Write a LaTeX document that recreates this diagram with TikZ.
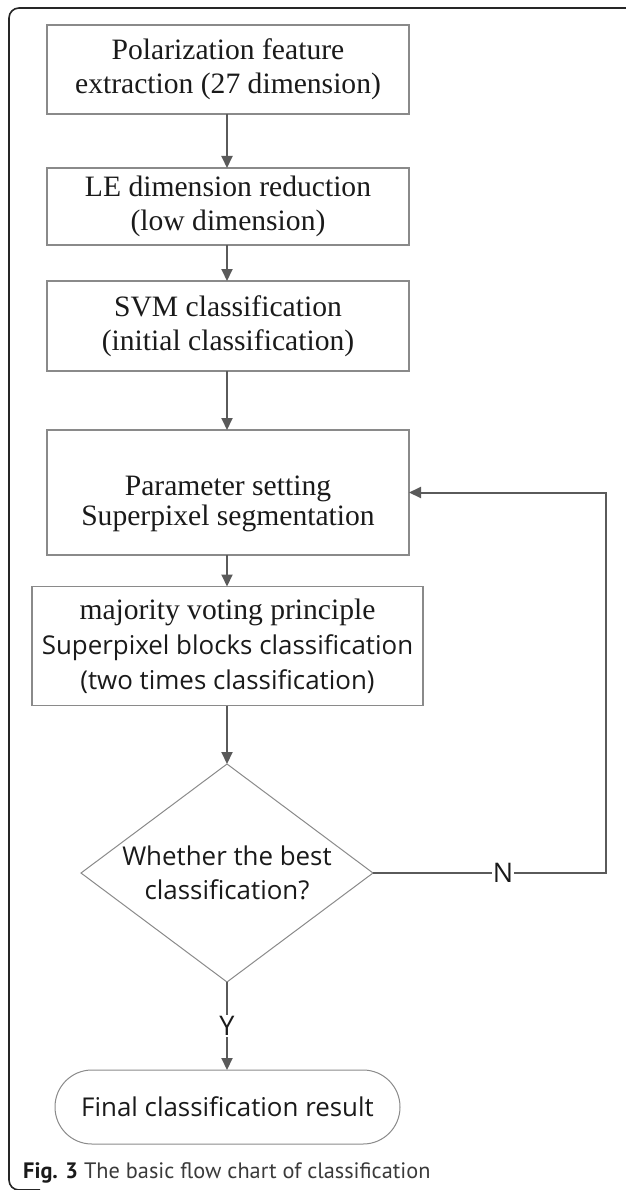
\documentclass[tikz,border=0pt]{standalone}
\usepackage{fontspec}
\setmainfont{Liberation Serif}
\newfontfamily\labelsans{Open Sans}
\newfontfamily\capsans{PT Sans}
\usetikzlibrary{arrows.meta,shapes.geometric}

\definecolor{boxline}{HTML}{8A8A8A}
\definecolor{arrowline}{HTML}{5A5A5A}
\definecolor{txt}{HTML}{1A1A1A}
\definecolor{captxt}{HTML}{3A3A3A}

\tikzset{
  x=1pt, y=-1pt,
  stepbox/.style={draw=boxline, line width=1.2pt, rectangle, inner sep=0pt,
    outer sep=0pt, align=center, text=txt,
    font=\fontsize{29.6}{34}\selectfont},
  flow/.style={draw=arrowline, line width=2pt,
    -{Triangle[width=11pt,length=12pt]}},
  tag/.style={fill=white, inner sep=1pt, text=txt,
    font=\labelsans\fontsize{27}{30}\selectfont},
  sanstext/.style={align=center, text=txt,
    font=\labelsans\fontsize{25.9}{34}\selectfont},
}

\begin{document}
\begin{tikzpicture}
\useasboundingbox (0,0) rectangle (625,1190);

% outer frame
\draw[line width=1.6pt, black!85, rounded corners=10pt]
  (640,8) -- (9,8) -- (9,1190) -- (40,1190);

% process boxes
\node[stepbox, minimum width=362pt, minimum height=89pt] (extract) at (228,69.5)
  {Polarization feature\\extraction (27 dimension)};
\node[stepbox, minimum width=362pt, minimum height=77pt] (reduce) at (228,206.5)
  {LE dimension reduction\\(low dimension)};
\node[stepbox, minimum width=362pt, minimum height=90pt] (svm) at (228,326)
  {SVM classification\\(initial classification)};
\node[stepbox, minimum width=362pt, minimum height=125pt] (segment) at (228,492.5) {};
\node[align=center, text=txt, inner sep=0pt,
  font=\fontsize{29.6}{30}\selectfont] (segmenttext) at (228,504)
  {Parameter setting\\Superpixel segmentation};
\node[stepbox, minimum width=391pt, minimum height=119pt,
  font=\fontsize{29.6}{35}\selectfont] (vote) at (227.5,646)
  {majority voting principle\\
   {\labelsans\fontsize{25.9}{35}\selectfont Superpixel blocks classification}\\
   {\labelsans\fontsize{25.9}{35}\selectfont (two times classification)}};

% decision
\node[diamond, draw=boxline, line width=1pt, minimum width=292pt,
  minimum height=218pt, inner sep=0pt, outer sep=0pt] (best) at (227,873) {};
\node[sanstext] (bestq) at (best.center) {Whether the best\\classification?};

% terminal
\node[draw=boxline, line width=1pt, rectangle, rounded corners=36.9pt,
  minimum width=345pt, minimum height=74pt, inner sep=0pt, outer sep=0pt,
  sanstext] (result) at (227.5,1107)
  {Final classification result};

% connectors
\draw[flow] (extract.south -| 227,0) -- (reduce.north -| 227,0);
\draw[flow] (reduce.south -| 227,0) -- (svm.north -| 227,0);
\draw[flow] (svm.south -| 227,0) -- (segment.north -| 227,0);
\draw[flow] (segment.south -| 227,0) -- (vote.north -| 227,0);
\draw[flow] (vote.south -| 227,0) -- (best.north);

\coordinate (loopcorner) at (606,873);
\draw[flow] (best.east) -- (loopcorner) -- (loopcorner |- segment.east)
  -- (segment.east);
\node[tag] (no) at (503,873) {N};

\draw[flow] (best.south) -- (result.north -| best.south);
\node[tag] (yes) at (227,1026) {Y};

% caption
\node[anchor=base west, inner sep=0pt, text=captxt,
  font=\capsans\fontsize{22.3}{25}\selectfont] (caption) at (23,1178)
  {{\bfseries\color{txt}Fig. 3} The basic flow chart of classification};
\end{tikzpicture}
\end{document}
